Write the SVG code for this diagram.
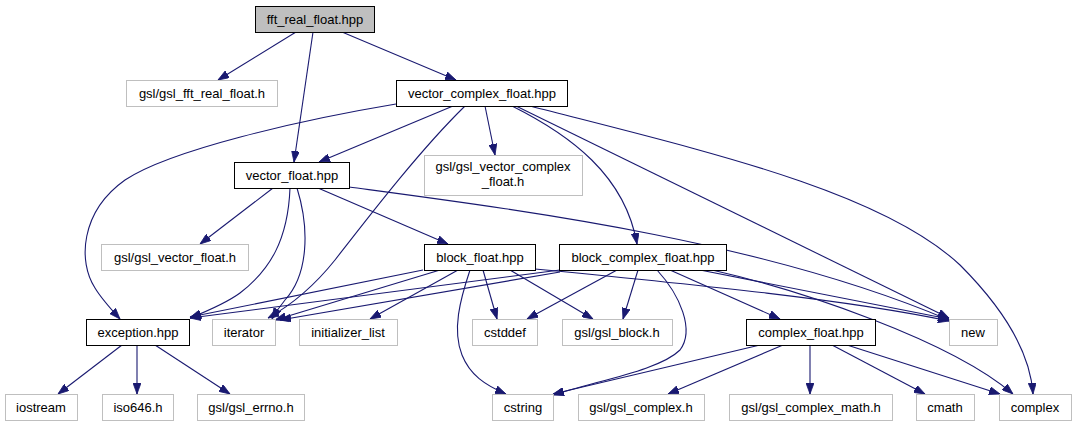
<svg xmlns="http://www.w3.org/2000/svg" width="1075" height="425" viewBox="0 0 1075 425">
<defs>
<marker id="arr" viewBox="0 0 11 8" refX="11" refY="4" markerWidth="11" markerHeight="8" markerUnits="userSpaceOnUse" orient="auto">
<path d="M0,0 L11,4 L0,8 Z" fill="#191970" stroke="#191970" stroke-width="0.8"/>
</marker>
</defs>
<style>
.n rect{fill:#fff;stroke:#000;stroke-width:1}
.g rect{fill:#fff;stroke:#bfbfbf;stroke-width:1}
.r rect{fill:#bfbfbf;stroke:#000;stroke-width:1}
text{font-family:"Liberation Sans",Arial,sans-serif;font-size:13px;fill:#000;text-anchor:middle}
#edges path{fill:none;stroke:#191970;stroke-width:1.1;marker-end:url(#arr)}
</style>
<rect width="1075" height="425" fill="#fff"/>
<g id="edges">
<path d="M296,32 L218,80"/>
<path d="M313,32 L294,162"/>
<path d="M342,32 L456,80"/>
<path d="M453,106 L319,162"/>
<path d="M396,104 C300,120 170,150 125,180 C80,212 78,262 95,288 C101,298 109,307 120,319"/>
<path d="M465,106 C420,150 370,215 335,260 C315,285 295,303 268,318"/>
<path d="M485,106 L495,155"/>
<path d="M512,106 C570,135 625,175 637,244"/>
<path d="M516,106 L949,318"/>
<path d="M530,106 C700,150 880,190 960,265 C1000,305 1030,350 1033,394"/>
<path d="M273,188 L200,244"/>
<path d="M290,188 C288,240 270,270 240,293 C225,304 205,312 190,318"/>
<path d="M297,188 C310,230 308,275 285,300 C280,306 276,312 272,319"/>
<path d="M318,188 L448,244"/>
<path d="M349,187 C520,210 760,240 949,320"/>
<path d="M423,270 L190,317"/>
<path d="M440,270 L275,320"/>
<path d="M458,270 L370,319"/>
<path d="M483,270 L497,319"/>
<path d="M510,270 L593,319"/>
<path d="M470,270 C460,300 452,330 462,355 C470,375 485,385 506,394"/>
<path d="M535,269 C700,285 850,300 949,321"/>
<path d="M560,270 L190,318"/>
<path d="M560,272 L280,320"/>
<path d="M617,270 L527,319"/>
<path d="M638,270 L623,319"/>
<path d="M657,270 C680,295 695,330 680,350 C660,370 600,380 553,395"/>
<path d="M670,270 L780,319"/>
<path d="M700,270 L949,319"/>
<path d="M712,270 C800,290 950,340 1013,394"/>
<path d="M760,345 L553,394"/>
<path d="M783,345 L668,394"/>
<path d="M810,345 L810,394"/>
<path d="M832,345 L925,394"/>
<path d="M847,345 L1000,394"/>
<path d="M122,345 L58,394"/>
<path d="M137,345 L137,394"/>
<path d="M155,345 L230,394"/>
</g>
<g id="fft_real_float" class="r"><rect x="255.5" y="6.5" width="119" height="26"/><text x="315" y="24">fft_real_float.hpp</text></g>
<g id="gsl_fft_real_float" class="g"><rect x="126.5" y="80.5" width="151" height="26"/><text x="202" y="98">gsl/gsl_fft_real_float.h</text></g>
<g id="vector_complex_float" class="n"><rect x="396.5" y="80.5" width="171" height="26"/><text x="482" y="98">vector_complex_float.hpp</text></g>
<g id="vector_float" class="n"><rect x="234.5" y="162.5" width="115" height="26"/><text x="292" y="180">vector_float.hpp</text></g>
<g id="gsl_vector_complex_float" class="g"><rect x="424.5" y="155.5" width="158" height="40"/><text x="503" y="171">gsl/gsl_vector_complex</text><text x="503" y="186">_float.h</text></g>
<g id="gsl_vector_float" class="g"><rect x="101.5" y="244.5" width="147" height="26"/><text x="175" y="262">gsl/gsl_vector_float.h</text></g>
<g id="block_float" class="n"><rect x="424.5" y="244.5" width="111" height="26"/><text x="480" y="262">block_float.hpp</text></g>
<g id="block_complex_float" class="n"><rect x="559.5" y="244.5" width="167" height="26"/><text x="643" y="262">block_complex_float.hpp</text></g>
<g id="exception" class="n"><rect x="86.5" y="319.5" width="103" height="26"/><text x="138" y="337">exception.hpp</text></g>
<g id="iterator" class="g"><rect x="212.5" y="319.5" width="63" height="26"/><text x="244" y="337">iterator</text></g>
<g id="initializer_list" class="g"><rect x="299.5" y="319.5" width="98" height="26"/><text x="348" y="337">initializer_list</text></g>
<g id="cstddef" class="g"><rect x="472.5" y="319.5" width="65" height="26"/><text x="505" y="337">cstddef</text></g>
<g id="gsl_block" class="g"><rect x="562.5" y="319.5" width="110" height="26"/><text x="617" y="337">gsl/gsl_block.h</text></g>
<g id="complex_float" class="n"><rect x="746.5" y="319.5" width="129" height="26"/><text x="811" y="337">complex_float.hpp</text></g>
<g id="new" class="g"><rect x="949.5" y="319.5" width="48" height="26"/><text x="973" y="337">new</text></g>
<g id="iostream" class="g"><rect x="5.5" y="394.5" width="72" height="26"/><text x="41" y="412">iostream</text></g>
<g id="iso646" class="g"><rect x="102.5" y="394.5" width="71" height="26"/><text x="138" y="412">iso646.h</text></g>
<g id="gsl_errno" class="g"><rect x="197.5" y="394.5" width="107" height="26"/><text x="251" y="412">gsl/gsl_errno.h</text></g>
<g id="cstring" class="g"><rect x="492.5" y="394.5" width="61" height="26"/><text x="523" y="412">cstring</text></g>
<g id="gsl_complex" class="g"><rect x="578.5" y="394.5" width="126" height="26"/><text x="641" y="412">gsl/gsl_complex.h</text></g>
<g id="gsl_complex_math" class="g"><rect x="729.5" y="394.5" width="163" height="26"/><text x="811" y="412">gsl/gsl_complex_math.h</text></g>
<g id="cmath" class="g"><rect x="916.5" y="394.5" width="58" height="26"/><text x="945" y="412">cmath</text></g>
<g id="complex" class="g"><rect x="999.5" y="394.5" width="72" height="26"/><text x="1035" y="412">complex</text></g>
</svg>
